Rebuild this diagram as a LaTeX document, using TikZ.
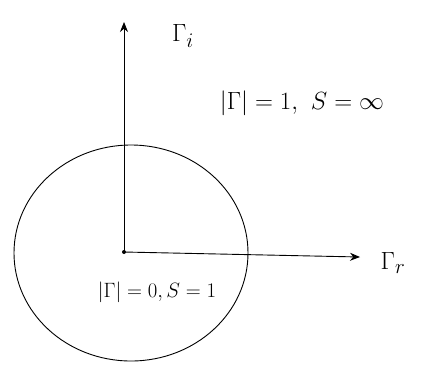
\documentclass[tikz,border=0pt]{standalone}
\usepackage{amsmath,amssymb}
\usetikzlibrary{calc,positioning,arrows.meta}

\begin{document}
\begin{tikzpicture}[x=1pt, y=-1pt,
  axis/.style={line width=0.9pt, -{Stealth[length=10pt,width=8pt]}},
  lbl/.style={font=\fontsize{29}{34}\selectfont, inner sep=0pt},
  small lbl/.style={font=\fontsize{20}{24}\selectfont, inner sep=0pt}]
\useasboundingbox (0,0) rectangle (433,376);
\node [circle, fill, minimum size=4pt, inner sep=0pt] (o) at (124,252) {};
\coordinate (yt) at (124,22);
\coordinate (xr) at (360,257);
\node [lbl] (gi) at (183,36) {$\Gamma_i$};
\node [lbl] (gr) at (393,263) {$\Gamma_r$};
\node [lbl] (g1) at (302,103) {$|\Gamma|=1,\ S=\infty$};
\node [small lbl] (g0) at (157,292) {$|\Gamma|=0,S=1$};

\draw [line width=0.9pt] (131,253) ellipse [x radius=117, y radius=108];
\draw [axis] (o.center) -- (yt);
\draw [axis] (o.center) -- (xr);
\end{tikzpicture}
\end{document}
